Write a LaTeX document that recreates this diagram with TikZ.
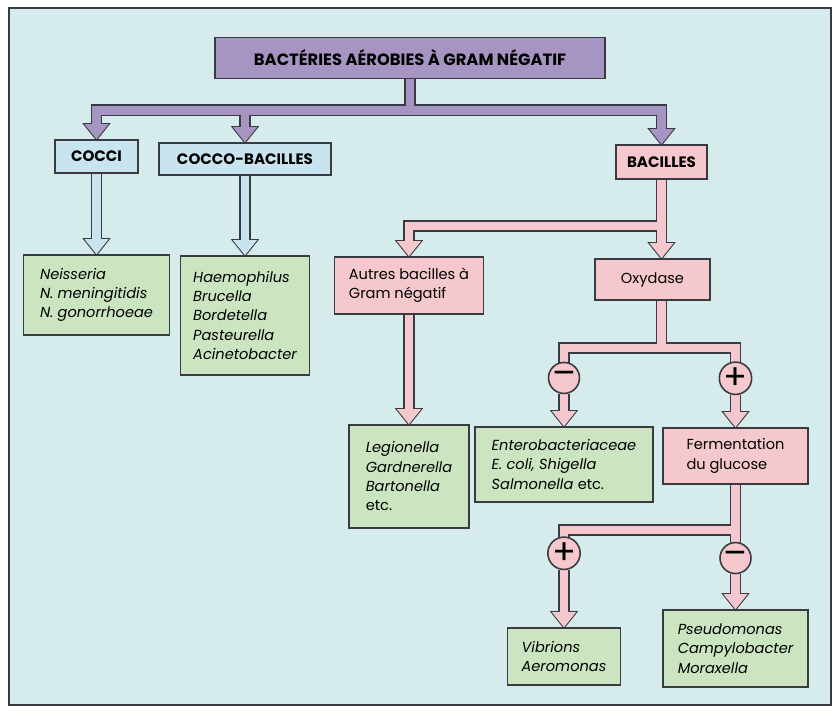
\documentclass[tikz,border=0pt]{standalone}
\usepackage{fontspec}
\setmainfont{Poppins}
\usepackage{tikz}
\usetikzlibrary{positioning,calc}
\definecolor{paper}{HTML}{D6ECEC}
\definecolor{edge}{HTML}{3A3A42}
\definecolor{mauve}{HTML}{A695C2}
\definecolor{sky}{HTML}{C8E4EF}
\definecolor{rose}{HTML}{F4C8CC}
\definecolor{sage}{HTML}{CAE5C0}
\pgfdeclarelayer{paperlayer}
\pgfdeclarelayer{pipeline}
\pgfdeclarelayer{pipefill}
\pgfsetlayers{paperlayer,pipeline,pipefill,main}
% hollow pipe: dark outline pass, then coloured pass on top
\newcommand{\fatpipe}[2]{%
  \begin{pgfonlayer}{pipeline}\draw[pipeout] #2;\end{pgfonlayer}
  \begin{pgfonlayer}{pipefill}\draw[pipein=#1] #2;\end{pgfonlayer}}
% arrow head, tip at #2
\newcommand{\fathead}[2]{%
  \begin{pgfonlayer}{pipeline}\filldraw[edge,line width=1.2pt] ($(#2)+(-12,-15)$) -- (#2) -- ($(#2)+(12,-15)$) -- cycle;\end{pgfonlayer}
  \begin{pgfonlayer}{pipefill}\fill[#1] ($(#2)+(-12,-15)$) -- (#2) -- ($(#2)+(12,-15)$) -- cycle;\end{pgfonlayer}}

\begin{document}
\begin{tikzpicture}[x=0.02cm,y=-0.02cm,
    box/.style={draw=edge,line width=0.9pt,inner ysep=0pt},
    capbox/.style={box,font=\bfseries\fontsize{8.6}{10}\selectfont},
    listbox/.style={box,fill=sage,align=left,inner xsep=0.2cm,font=\itshape\fontsize{8.3}{11}\selectfont},
    testbox/.style={box,fill=rose,align=left,inner xsep=0.2cm,font=\fontsize{8.3}{11}\selectfont},
    sign/.style={circle,draw=edge,fill=rose,line width=0.9pt,minimum size=0.62cm,inner sep=0pt,font=\fontsize{20}{20}\selectfont},
    pipeout/.style={draw=edge,line width=6.6pt,shorten >=0.24cm},
    pipein/.style={draw=#1,line width=4.8pt,shorten >=0.24cm}
  ]
  \useasboundingbox (0,0) rectangle (840,717);
  \begin{pgfonlayer}{paperlayer}
    \fill[white] (0,0) rectangle (840,717);
    \draw[edge,fill=paper,line width=0.8pt] (9,8) rectangle (831,705);
  \end{pgfonlayer}

  % groups
  \node[capbox,fill=mauve,minimum width=7.8cm,minimum height=0.82cm,font=\bfseries\fontsize{9.3}{10}\selectfont] (title) at (410,58) {BACTÉRIES AÉROBIES À GRAM NÉGATIF};
  \node[capbox,fill=sky,minimum width=1.66cm,minimum height=0.66cm] (cocci) at (96.5,156.5) {COCCI};
  \node[capbox,fill=sky,minimum width=3.44cm,minimum height=0.64cm] (cocbac) at (245,159) {COCCO-BACILLES};
  \node[capbox,fill=rose,minimum width=1.82cm,minimum height=0.68cm] (bac) at (661.5,162) {BACILLES};

  % tests and genera
  \node[listbox,minimum width=2.92cm,minimum height=1.6cm] (neiss) at (96.5,295) {Neisseria\\N. meningitidis\\N. gonorrhoeae};
  \node[listbox,minimum width=2.58cm,minimum height=2.38cm] (haem) at (245,315.5) {Haemophilus\\Brucella\\Bordetella\\Pasteurella\\Acinetobacter};
  \node[testbox,minimum width=2.98cm,minimum height=1.14cm] (autres) at (409,285.5) {Autres bacilles à\\Gram négatif};
  \node[testbox,align=center,minimum width=2.3cm,minimum height=0.82cm] (oxy) at (652.5,279.5) {Oxydase};
  \node[listbox,minimum width=2.4cm,minimum height=2.06cm] (legion) at (409,476.5) {Legionella\\Gardnerella\\Bartonella\\\textup{etc.}};
  \node[listbox,minimum width=3.56cm,minimum height=1.5cm] (entero) at (564,464.5) {Enterobacteriaceae\\E. coli, Shigella\\Salmonella \textup{etc.}};
  \node[testbox,minimum width=2.9cm,minimum height=1.12cm] (ferm) at (735.5,456) {Fermentation\\du glucose};
  \node[listbox,minimum width=2.26cm,minimum height=1.14cm] (vib) at (564,656.5) {Vibrions\\Aeromonas};
  \node[listbox,minimum width=2.9cm,minimum height=1.54cm] (pseud) at (735.5,648.5) {Pseudomonas\\Campylobacter\\Moraxella};

  % results
  \node[sign,above=0.64cm of entero] (neg1) {–};
  \node[sign,above=0.64cm of ferm] (pos1) {+};
  \node[sign,below=1.14cm of ferm] (neg2) {–};
  \node[sign,above=1.14cm of vib] (pos2) {+};

  \coordinate (oxytip) at (bac.south |- oxy.north);
  \coordinate (oxybase) at (bac.south |- oxy.south);

  % connectors
  \fatpipe{mauve}{(title.south) -- ++(0,31) -| (cocci.north)}
  \fatpipe{mauve}{(title.south) -- ++(0,31) -| (cocbac.north)}
  \fatpipe{mauve}{(title.south) -- ++(0,31) -| (bac.north)}
  \fatpipe{sky}{(cocci) -- (neiss)}
  \fatpipe{sky}{(cocbac) -- (haem)}
  \fatpipe{rose}{(bac.south) -- ++(0,46) -| (autres.north)}
  \fatpipe{rose}{(bac.south) -- (oxytip)}
  \fatpipe{rose}{(autres) -- (legion)}
  \fatpipe{rose}{(oxybase) -- ++(0,47) -| (neg1.center)}
  \fatpipe{rose}{(oxybase) -- ++(0,47) -| (pos1.center)}
  \fatpipe{rose}{(neg1) -- (entero)}
  \fatpipe{rose}{(pos1) -- (ferm)}
  \fatpipe{rose}{(ferm.south) -- ++(0,45) -| (pos2.center)}
  \fatpipe{rose}{(ferm.south) -- ++(0,45) -| (neg2.center)}
  \fatpipe{rose}{(pos2) -- (vib)}
  \fatpipe{rose}{(neg2) -- (pseud)}

  \fathead{mauve}{cocci.north}
  \fathead{mauve}{cocbac.north}
  \fathead{mauve}{bac.north}
  \fathead{sky}{neiss.north}
  \fathead{sky}{haem.north}
  \fathead{rose}{autres.north}
  \fathead{rose}{oxytip}
  \fathead{rose}{legion.north}
  \fathead{rose}{entero.north}
  \fathead{rose}{ferm.north}
  \fathead{rose}{vib.north}
  \fathead{rose}{pseud.north}
\end{tikzpicture}
\end{document}
